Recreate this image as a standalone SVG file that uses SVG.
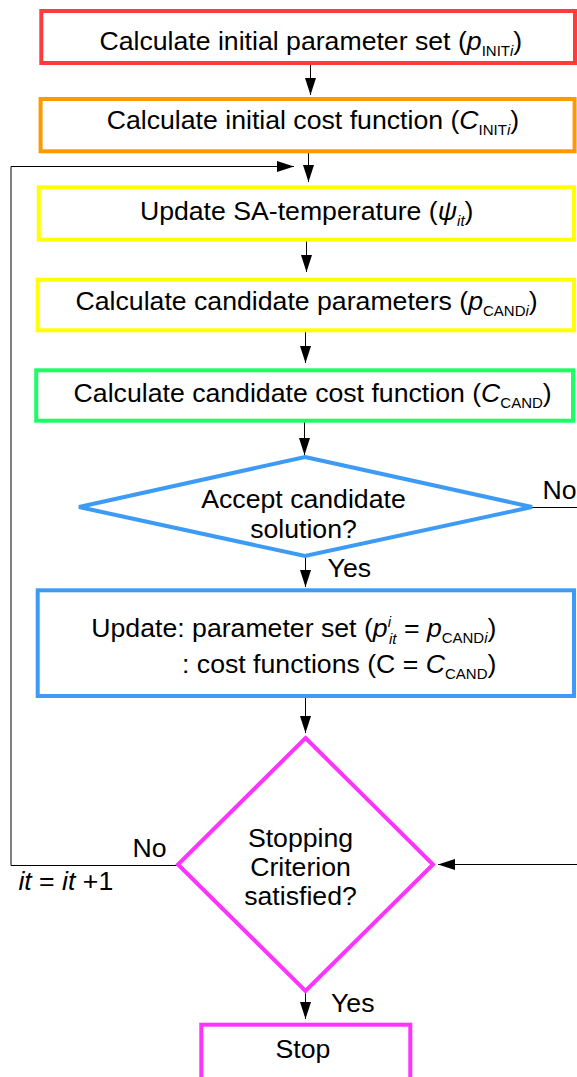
<svg xmlns="http://www.w3.org/2000/svg" width="577" height="1077" viewBox="0 0 577 1077">
<style>
text{font-family:"Liberation Sans",Arial,sans-serif;font-size:26.67px;fill:#000}
.sub{font-size:15px}
.i{font-style:italic}
.box{fill:#fff;stroke-width:4}
.ln{fill:none;stroke:#000;stroke-width:1}
</style>
<defs>
<marker id="ah" markerUnits="userSpaceOnUse" markerWidth="18" markerHeight="12" refX="17" refY="5.5" orient="auto">
<path d="M0,0 L17,5.5 L0,11 z" fill="#000"/>
</marker>
</defs>
<rect width="577" height="1077" fill="#fff"/>
<g id="connectors">
<path class="ln" d="M310.5,63 V95" marker-end="url(#ah)"/>
<path class="ln" d="M308.5,153 V182" marker-end="url(#ah)"/>
<path class="ln" d="M178,865.5 H11 V166.5 H294" marker-end="url(#ah)"/>
<path class="ln" d="M306.5,241 V272" marker-end="url(#ah)"/>
<path class="ln" d="M305.5,332 V363" marker-end="url(#ah)"/>
<path class="ln" d="M304.5,422 V455" marker-end="url(#ah)"/>
<path class="ln" d="M305.5,557 V587" marker-end="url(#ah)"/>
<path class="ln" d="M532,507.5 H577"/>
<path class="ln" d="M577,864.5 H438" marker-end="url(#ah)"/>
<path class="ln" d="M305.5,698 V733" marker-end="url(#ah)"/>
<path class="ln" d="M305.5,992 V1019" marker-end="url(#ah)"/>
<text x="327.6" y="577">Yes</text>
<text x="542.5" y="499">No</text>
<text x="132.5" y="856.7">No</text>
<text x="18.4" y="890"><tspan class="i">it</tspan> = <tspan class="i">it</tspan> +1</text>
<text x="331" y="1011.7">Yes</text>
</g>
<g id="n1">
<rect class="box" x="41.3" y="11" width="533.7" height="52" stroke="#ff3b3b"/>
<text x="99.4" y="49.5">Calculate initial parameter set (<tspan class="i">p</tspan><tspan class="sub" dy="6">INIT</tspan><tspan class="sub i">i</tspan><tspan dy="-6">)</tspan></text>
</g>
<g id="n2">
<rect class="box" x="40.6" y="99" width="534" height="52.3" stroke="#ff9900"/>
<text x="106.7" y="129.3">Calculate initial cost function (<tspan class="i">C</tspan><tspan class="sub" dy="6">INIT</tspan><tspan class="sub i">i</tspan><tspan dy="-6">)</tspan></text>
</g>
<g id="n3">
<rect class="box" x="38.8" y="187.3" width="535.2" height="52.4" stroke="#ffff00"/>
<text x="139.9" y="220">Update SA-temperature (<tspan class="i">ψ</tspan><tspan class="sub i" dy="6">it</tspan><tspan dy="-6">)</tspan></text>
</g>
<g id="n4">
<rect class="box" x="37.7" y="279.7" width="536.3" height="50.6" stroke="#ffff00"/>
<text x="75.5" y="310">Calculate candidate parameters (<tspan class="i">p</tspan><tspan class="sub" dy="6">CAND</tspan><tspan class="sub i">i</tspan><tspan dy="-6">)</tspan></text>
</g>
<g id="n5">
<rect class="box" x="36.2" y="370.3" width="536.8" height="50.4" stroke="#1aff66"/>
<text x="73.6" y="402.3">Calculate candidate cost function (<tspan class="i">C</tspan><tspan class="sub" dy="6">CAND</tspan><tspan dy="-6">)</tspan></text>
</g>
<g id="n6">
<polygon class="box" points="305,457 532,507 305,556 79,507" stroke="#3d9bf5"/>
<text x="303.5" y="508.3" text-anchor="middle">Accept candidate</text>
<text x="303.5" y="538" text-anchor="middle">solution?</text>
</g>
<g id="n7">
<rect class="box" x="37.7" y="590.3" width="536.3" height="105.7" stroke="#3d9bf5"/>
<text x="91.3" y="637">Update: parameter set (<tspan class="i">p</tspan><tspan class="sub i" dy="-10">i</tspan><tspan class="sub i" dx="-2" dy="17">it</tspan><tspan dy="-7"> = </tspan><tspan class="i">p</tspan><tspan class="sub" dy="6">CAND</tspan><tspan class="sub i">i</tspan><tspan dy="-6">)</tspan></text>
<text x="182" y="672.5">: cost functions (C = <tspan class="i">C</tspan><tspan class="sub" dy="6">CAND</tspan><tspan dy="-6">)</tspan></text>
</g>
<g id="n8">
<polygon class="box" points="305.5,738 433,864.5 305.5,991 178,864.5" stroke="#ff33ff"/>
<text x="300.5" y="846.7" text-anchor="middle">Stopping</text>
<text x="300.5" y="875.7" text-anchor="middle">Criterion</text>
<text x="300.5" y="905" text-anchor="middle">satisfied?</text>
</g>
<g id="n9">
<rect class="box" x="201.3" y="1024.7" width="209" height="60" stroke="#ff33ff"/>
<text x="303" y="1058.3" text-anchor="middle">Stop</text>
</g>
</svg>
